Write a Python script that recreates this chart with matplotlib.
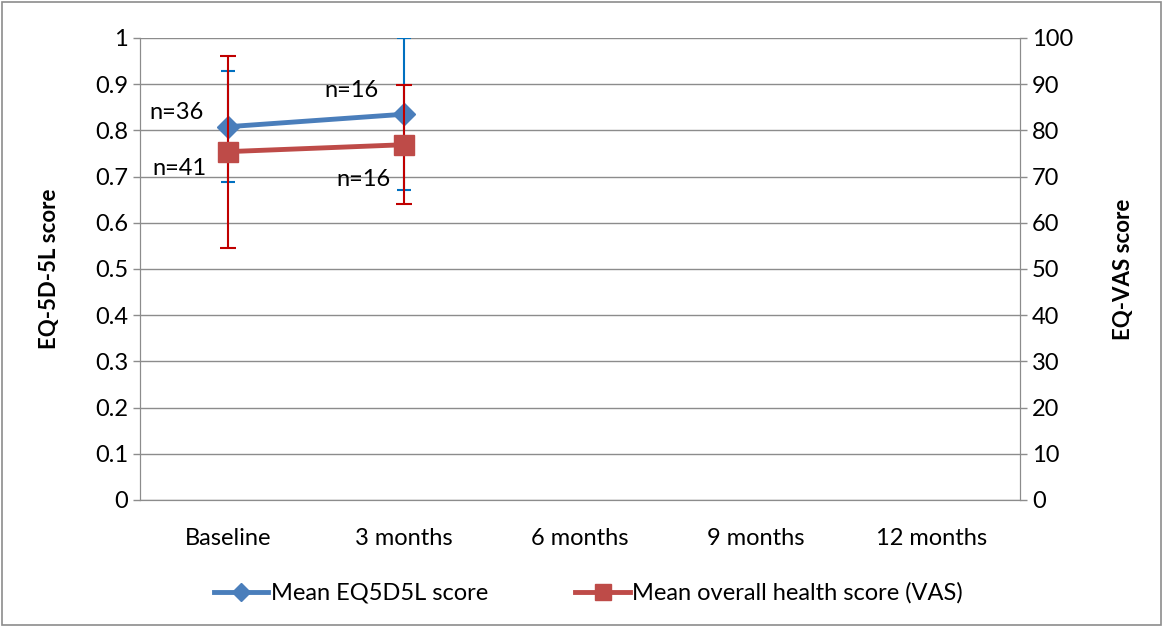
import matplotlib
matplotlib.use("Agg")
import matplotlib.pyplot as plt
from matplotlib.patches import Rectangle
from matplotlib.lines import Line2D

plt.rcParams['font.family'] = ['Lato', 'DejaVu Sans']

# data
timepoints = ["Baseline", "3 months", "6 months", "9 months", "12 months"]
eq5d_mean = [0.808, 0.835]
eq5d_err = [0.12, 0.165]
vas_mean = [75.4, 76.9]
vas_err = [20.8, 12.9]
eq5d_n = ["n=36", "n=16"]
vas_n = ["n=41", "n=16"]

blue = "#4a7ebb"
red = "#be4b48"
blue_err = "#0070c0"
red_err = "#c00000"
grid_c = "#8c8c8c"
fs = 17

fig = plt.figure(figsize=(11.63, 6.27), dpi=100)
ax = fig.add_axes([0.1204, 0.2026, 0.7566, 0.7368])
ax2 = ax.twinx()

x = list(range(len(eq5d_mean)))

ax.errorbar(x, eq5d_mean, yerr=eq5d_err, fmt='none', ecolor=blue_err,
            elinewidth=1.5, capsize=5, capthick=1.5, zorder=3)
ax.plot(x, eq5d_mean, color=blue, lw=3.5, marker='D', ms=11,
        markeredgecolor=blue, zorder=4)

ax2.errorbar(x, vas_mean, yerr=vas_err, fmt='none', ecolor=red_err,
             elinewidth=1.5, capsize=6, capthick=1.5, zorder=3)
ax2.plot(x, vas_mean, color=red, lw=3.5, marker='s', ms=14,
         markeredgecolor=red, zorder=4)

ax.set_xlim(-0.5, len(timepoints) - 0.5)
ax.set_ylim(0, 1)
ax2.set_ylim(0, 100)
ax.set_yticks([i / 10 for i in range(11)])
ax.set_yticklabels(["0", "0.1", "0.2", "0.3", "0.4", "0.5", "0.6", "0.7", "0.8", "0.9", "1"])
ax2.set_yticks(range(0, 101, 10))
ax.set_xticks(range(len(timepoints)))
ax.set_xticklabels(timepoints)
ax.grid(axis='y', color=grid_c, lw=1)
ax.set_axisbelow(True)

for a in (ax, ax2):
    a.tick_params(labelsize=fs, colors=grid_c, labelcolor='black', length=5, width=1)
    for s in a.spines.values():
        s.set_color(grid_c)
ax.tick_params(axis='x', length=0, pad=20)
ax.spines['top'].set_visible(False)
ax2.spines['top'].set_visible(False)

ax.set_ylabel("EQ-5D-5L score", fontsize=16, fontweight='bold')
ax2.set_ylabel("EQ-VAS score", fontsize=16, fontweight='bold')
ax.yaxis.set_label_coords(-0.091, 0.5)
ax2.yaxis.set_label_coords(1.106, 0.5)

# sample size labels
ax.annotate(eq5d_n[0], (x[0], eq5d_mean[0]), xytext=(-37, 10), textcoords='offset points',
            fontsize=fs, ha='center', va='center')
ax.annotate(eq5d_n[1], (x[1], eq5d_mean[1]), xytext=(-38, 17), textcoords='offset points',
            fontsize=fs, ha='center', va='center')
ax2.annotate(vas_n[0], (x[0], vas_mean[0]), xytext=(-35, -12), textcoords='offset points',
             fontsize=fs, ha='center', va='center')
ax2.annotate(vas_n[1], (x[1], vas_mean[1]), xytext=(-29, -25), textcoords='offset points',
             fontsize=fs, ha='center', va='center')

handles = [Line2D([], [], color=blue, lw=3.5, marker='D', ms=9),
           Line2D([], [], color=red, lw=3.5, marker='s', ms=11)]
fig.legend(handles, ["Mean EQ5D5L score", "Mean overall health score (VAS)"],
           loc='center', bbox_to_anchor=(0.506, 0.054), ncol=2, frameon=False,
           fontsize=fs, handlelength=2.3, handletextpad=0.1, columnspacing=3.7)

fig.patches.append(Rectangle((0.002, 0.003), 0.996, 0.994, transform=fig.transFigure,
                             fill=False, edgecolor='#8c8c8c', lw=1.2))

fig.savefig("out.png", dpi=100)
